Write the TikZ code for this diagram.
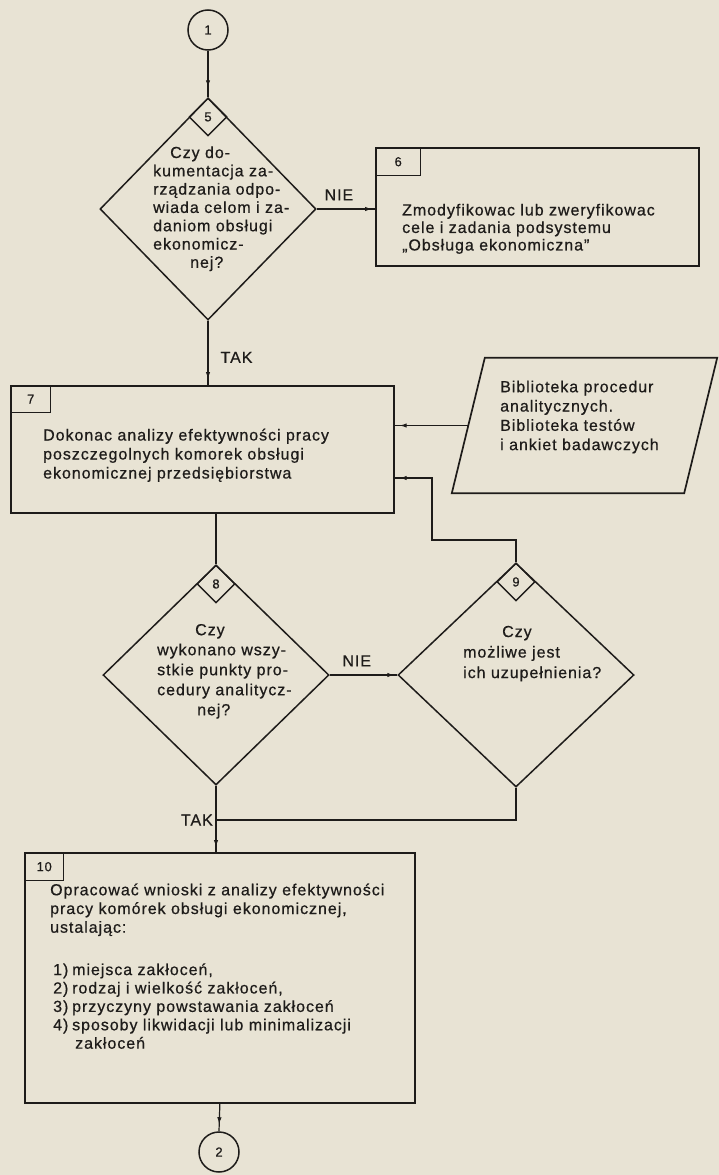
\documentclass[tikz,border=0pt]{standalone}
\usepackage{fontspec}
\setmainfont{Liberation Sans}
\newfontfamily\inkfont[LetterSpace=6,FakeBold=0.6]{Liberation Sans}
\newcommand\bodyfont[1]{\inkfont\fontsize{16}{#1}\selectfont}
\newcommand\numfont{\inkfont\fontsize{13}{15}\selectfont}
\usetikzlibrary{shapes.geometric,decorations.markings,arrows.meta}

\definecolor{paper}{RGB}{232,227,212}
\definecolor{ink}{RGB}{30,28,26}

\tikzset{
  x=1pt, y=-1pt,
  every node/.style={text=ink},
  box/.style={draw=ink, line width=1.7pt, rectangle, inner sep=0, anchor=north west},
  tab/.style={draw=ink, line width=1.4pt, rectangle, inner sep=0, anchor=north west, font=\numfont},
  decision/.style={draw=ink, line width=1.5pt, diamond, inner sep=0},
  numdia/.style={draw=ink, line width=1.4pt, diamond, inner sep=0,
    minimum width=38pt, minimum height=38pt, anchor=north, font=\numfont},
  libarea/.style={rectangle, inner sep=0},
  libedge/.style={draw=ink, line width=1.7pt, line join=miter},
  connector/.style={circle, draw=ink, line width=1.5pt, minimum size=40pt, inner sep=0, font=\numfont},
  flow/.style={draw=ink, line width=1.2pt},
  arrowat/.style={postaction={decorate}, decoration={markings,
    mark=at position #1 with {\arrow{Latex[length=7pt,width=4.5pt]}}}},
  body/.style={align=left, anchor=north west, inner sep=0},
  lbl/.style={font={\bodyfont{18}}, inner sep=0},
}

\begin{document}
\begin{tikzpicture}
  \fill[paper] (0,0) rectangle (719,1175);
  \useasboundingbox (0,0) rectangle (719,1175);

  % terminals
  \node[connector] (c1) at (208,30) {1};
  \node[connector] (c2) at (219,1152) {2};

  % decision 5 and action 6
  \node[decision, minimum width=216pt, minimum height=222pt] (d5) at (208,209) {};
  \node[numdia] (n5) at (d5.north) {5};
  \node[body, font={\bodyfont{18.3}}] (x5) at (153,145) {%
    \strut\hspace*{17pt}Czy do-\\ kumentacja za-\\ rządzania odpo-\\
    wiada celom i za-\\ daniom obsługi\\ ekonomicz-\\ \hspace*{37pt}nej?};

  \node[box, minimum width=323pt, minimum height=118pt] (b6) at (375,147) {};
  \node[tab, minimum width=45pt, minimum height=28pt] (t6) at (b6.north west) {6};
  \node[body, font={\bodyfont{17.5}}] (x6) at (402,203) {%
    \strut Zmodyfikowac lub zweryfikowac\\ cele i zadania podsystemu\\
    „Obsługa ekonomiczna”};

  % action 7 and the library (a slanted data symbol)
  \node[box, minimum width=383pt, minimum height=127pt] (b7) at (10,385) {};
  \node[tab, minimum width=40pt, minimum height=27pt] (t7) at (b7.north west) {7};
  \node[body, font={\bodyfont{19}}] (x7) at (43,427) {%
    \strut Dokonac analizy efektywności pracy\\
    poszczegolnych komorek obsługi\\
    ekonomicznej przedsiębiorstwa};

  \node[libarea, minimum width=265pt, minimum height=135pt] (lib) at (584.5,425.5) {};
  \draw[libedge] (lib.south west) -- ([xshift=33pt]lib.north west)
    -- (lib.north east) -- ([xshift=-33pt]lib.south east) -- cycle;
  \coordinate (libw) at ([xshift=16.5pt]lib.west);
  \node[body, font={\bodyfont{19.3}}] (xlib) at (500,378.5) {%
    \strut Biblioteka procedur\\ analitycznych.\\ Biblioteka testów\\
    i ankiet badawczych};

  % decisions 8 and 9
  \node[decision, minimum width=226pt, minimum height=220pt] (d8) at (216,675) {};
  \node[numdia] (n8) at (d8.north) {8};
  \node[body, font={\bodyfont{20}}] (x8) at (157,621) {%
    \strut\hspace*{38pt}Czy\\ wykonano wszy-\\ stkie punkty pro-\\
    cedury analitycz-\\ \hspace*{40pt}nej?};

  \node[decision, minimum width=236pt, minimum height=224pt] (d9) at (516,675) {};
  \node[numdia] (n9) at (d9.north) {9};
  \node[body, font={\bodyfont{20.5}}] (x9) at (463,622.5) {%
    \strut\hspace*{39pt}Czy\\ możliwe jest\\ ich uzupełnienia?};

  % action 10
  \node[box, minimum width=390pt, minimum height=250pt] (b10) at (24,852) {};
  \node[tab, minimum width=39pt, minimum height=28pt] (t10) at (b10.north west) {10};
  \node[body, font={\bodyfont{18.7}}] (x10) at (50,882) {%
    \strut Opracować wnioski z analizy efektywności\\
    pracy komórek obsługi ekonomicznej,\\ ustalając:};
  \node[body, font={\bodyfont{18.4}}] (x10l) at (53,962) {%
    \strut\makebox[19pt][l]{1)}miejsca zakłoceń,\\
    \makebox[19pt][l]{2)}rodzaj i wielkość zakłoceń,\\
    \makebox[19pt][l]{3)}przyczyny powstawania zakłoceń\\
    \makebox[19pt][l]{4)}sposoby likwidacji lub minimalizacji\\
    \hspace*{22pt}zakłoceń};

  % bend points of the connectors
  \coordinate (k1) at (516,540);
  \coordinate (k2) at (432,540);
  \coordinate (k3) at (432,478);
  \coordinate (k4) at (516,820);
  \coordinate (j)  at (216,820);

  % connectors
  \draw[flow, arrowat=-10pt] (c1) -- (d5.north);
  \draw[flow, arrowat=-3pt] (d5.east) -- (d5.east -| b6.west)
    node[lbl, above=8pt, pos=0.38] (nie5) {NIE};
  \draw[flow, arrowat=-6pt] (d5.south) -- (d5.south |- b7.north)
    node[lbl, right=12pt, pos=0.57] (tak5) {TAK};
  \draw[flow, arrowat=-5pt] (libw) -- (libw -| b7.east);
  \draw[flow, arrowat=-5pt] (d9.north) -- (k1) -- (k2) -- (k3) -- (k3 -| b7.east);
  \draw[flow] (d8.north |- b7.south) -- (d8.north);
  \draw[flow, arrowat=-3pt] (d8.east) -- (d9.west)
    node[lbl, above=8pt, pos=0.4] (nie8) {NIE};
  \draw[flow] (d9.south) -- (k4) -- (j);
  \draw[flow, arrowat=-5pt] (d8.south) -- (d8.south |- b10.north);
  \node[lbl, anchor=east] (tak8) at ([xshift=-3pt]j) {TAK};
  \draw[flow, arrowat=-7pt] (b10.south) -- (c2.north);
\end{tikzpicture}
\end{document}
